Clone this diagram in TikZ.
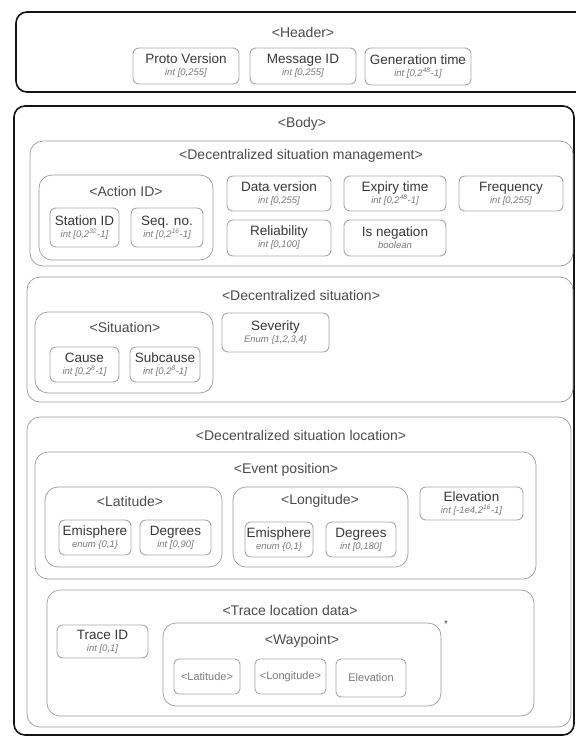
\documentclass[tikz,border=0pt]{standalone}
\usepackage{fontspec}
\setmainfont{Liberation Sans}
\definecolor{outerc}{gray}{0.08}
\definecolor{contc}{gray}{0.62}
\definecolor{fieldc}{gray}{0.66}
\definecolor{titlec}{gray}{0.30}
\definecolor{namec}{gray}{0.22}
\definecolor{typec}{gray}{0.48}
\newcommand\mkbox[7]{\node[#2, minimum width={(#5-#3)*1pt}, minimum height={(#6-#4)*1pt}] (#1) at ({(#3+#5)/2},{(#4+#6)/2}) {#7};}
\newcommand\nm[1]{{\fontsize{13.5}{15}\selectfont\color{namec}#1}}
\newcommand\ty[1]{{\fontsize{9.5}{11}\selectfont\itshape\color{typec}#1}}
\newcommand\fld[2]{\nm{#1}\\[0pt]\ty{#2}}
\begin{document}
\begin{tikzpicture}[x=1pt,y=-1pt,
  outerbox/.style={draw=outerc, line width=1.6pt, rounded corners=11pt, inner sep=0pt, outer sep=0pt},
  contbox/.style={draw=contc, line width=0.7pt, rounded corners=13pt, inner sep=0pt, outer sep=0pt},
  fieldbox/.style={draw=fieldc, line width=0.9pt, rounded corners=6pt, inner sep=0pt, outer sep=0pt, align=center},
  smallbox/.style={draw=fieldc, line width=0.9pt, rounded corners=5pt, inner sep=0pt, outer sep=0pt, align=center, font=\fontsize{11}{13}\selectfont, text=typec},
  titletext/.style={inner sep=0pt, font=\fontsize{14}{16}\selectfont, text=titlec}]
\useasboundingbox (0,0) rectangle (576,737);
\clip (0,0) rectangle (576,737);
\fill[white] (0,0) rectangle (576,737);

% Header
\mkbox{header}{outerbox}{16}{12}{592}{92}{}
\node[titletext] (headert) at (303,32) {<Header>};
\mkbox{pv}{fieldbox}{133}{48}{239}{84}{\fld{Proto Version}{int [0,255]}}
\mkbox{mid}{fieldbox}{250}{48}{356}{84}{\fld{Message ID}{int [0,255]}}
\mkbox{gt}{fieldbox}{365}{48}{471}{85}{\fld{Generation time}{int [0,2\textsuperscript{48}-1]}}

% Body
\mkbox{body}{outerbox}{14}{106}{574}{735}{}
\node[titletext] (bodyt) at (302,124) {<Body>};

% Decentralized situation management
\mkbox{dsm}{contbox}{30}{141}{573}{266}{}
\node[titletext] (dsmt) at (301,156) {<Decentralized situation management>};
\mkbox{aid}{contbox}{39}{175}{213}{260}{}
\node[titletext] (aidt) at (126,191) {<Action ID>};
\mkbox{sid}{fieldbox}{50}{208}{119}{247}{\fld{Station ID}{int [0,2\textsuperscript{32}-1]}}
\mkbox{seq}{fieldbox}{131}{208}{203}{247}{\fld{Seq. no.}{int [0,2\textsuperscript{16}-1]}}
\mkbox{dv}{fieldbox}{227}{176}{331}{211}{\fld{Data version}{int [0,255]}}
\mkbox{et}{fieldbox}{344}{176}{446}{211}{\fld{Expiry time}{int [0,2\textsuperscript{48}-1]}}
\mkbox{fr}{fieldbox}{459}{176}{563}{211}{\fld{Frequency}{int [0,255]}}
\mkbox{rel}{fieldbox}{227}{220}{331}{256}{\fld{Reliability}{int [0,100]}}
\mkbox{neg}{fieldbox}{344}{220}{446}{256}{\fld{Is negation}{boolean}}

% Decentralized situation
\mkbox{ds}{contbox}{27}{277}{573}{402}{}
\node[titletext] (dst) at (301,295) {<Decentralized situation>};
\mkbox{sit}{contbox}{35}{312}{213}{393}{}
\node[titletext] (sitt) at (125,327) {<Situation>};
\mkbox{cause}{fieldbox}{50}{347}{119}{382}{\fld{Cause}{int [0,2\textsuperscript{8}-1]}}
\mkbox{subc}{fieldbox}{130}{347}{200}{382}{\fld{Subcause}{int [0,2\textsuperscript{8}-1]}}
\mkbox{sev}{fieldbox}{222}{313}{329}{352}{\fld{Severity}{Enum \{1,2,3,4\}}}

% Decentralized situation location
\mkbox{dsl}{contbox}{27}{417}{571}{727}{}
\node[titletext] (dslt) at (301,435) {<Decentralized situation location>};
\mkbox{ep}{contbox}{35}{452}{536}{579}{}
\node[titletext] (ept) at (286,470) {<Event position>};
\mkbox{lat}{contbox}{45}{487}{222}{567}{}
\node[titletext] (latt) at (130,501) {<Latitude>};
\mkbox{em1}{fieldbox}{59}{520}{131}{555}{\fld{Emisphere}{enum \{0,1\}}}
\mkbox{deg1}{fieldbox}{140}{520}{211}{555}{\fld{Degrees}{int [0,90]}}
\mkbox{lon}{contbox}{233}{487}{408}{567}{}
\node[titletext] (lont) at (320,501) {<Longitude>};
\mkbox{em2}{fieldbox}{245}{522}{313}{557}{\fld{Emisphere}{enum \{0,1\}}}
\mkbox{deg2}{fieldbox}{326}{522}{396}{557}{\fld{Degrees}{int [0,180]}}
\mkbox{elev}{fieldbox}{420}{487}{523}{520}{\fld{Elevation}{int [-1e4,2\textsuperscript{16}-1]}}

% Trace location data
\mkbox{tld}{contbox}{47}{590}{534}{716}{}
\node[titletext] (tldt) at (290,610) {<Trace location data>};
\mkbox{tid}{fieldbox}{57}{625}{148}{658}{\fld{Trace ID}{int [0,1]}}
\mkbox{wp}{contbox}{163}{623}{441}{706}{}
\node[titletext] (wpt) at (302,641) {<Waypoint>};
\node[inner sep=0pt, font=\fontsize{10}{11}\selectfont, text=titlec] (ast) at (446,624) {*};
\mkbox{wlat}{smallbox}{174}{659}{240}{694}{<Latitude>}
\mkbox{wlon}{smallbox}{255}{659}{326}{694}{<Longitude>}
\mkbox{welev}{smallbox}{336}{659}{406}{697}{Elevation}
\end{tikzpicture}
\end{document}
